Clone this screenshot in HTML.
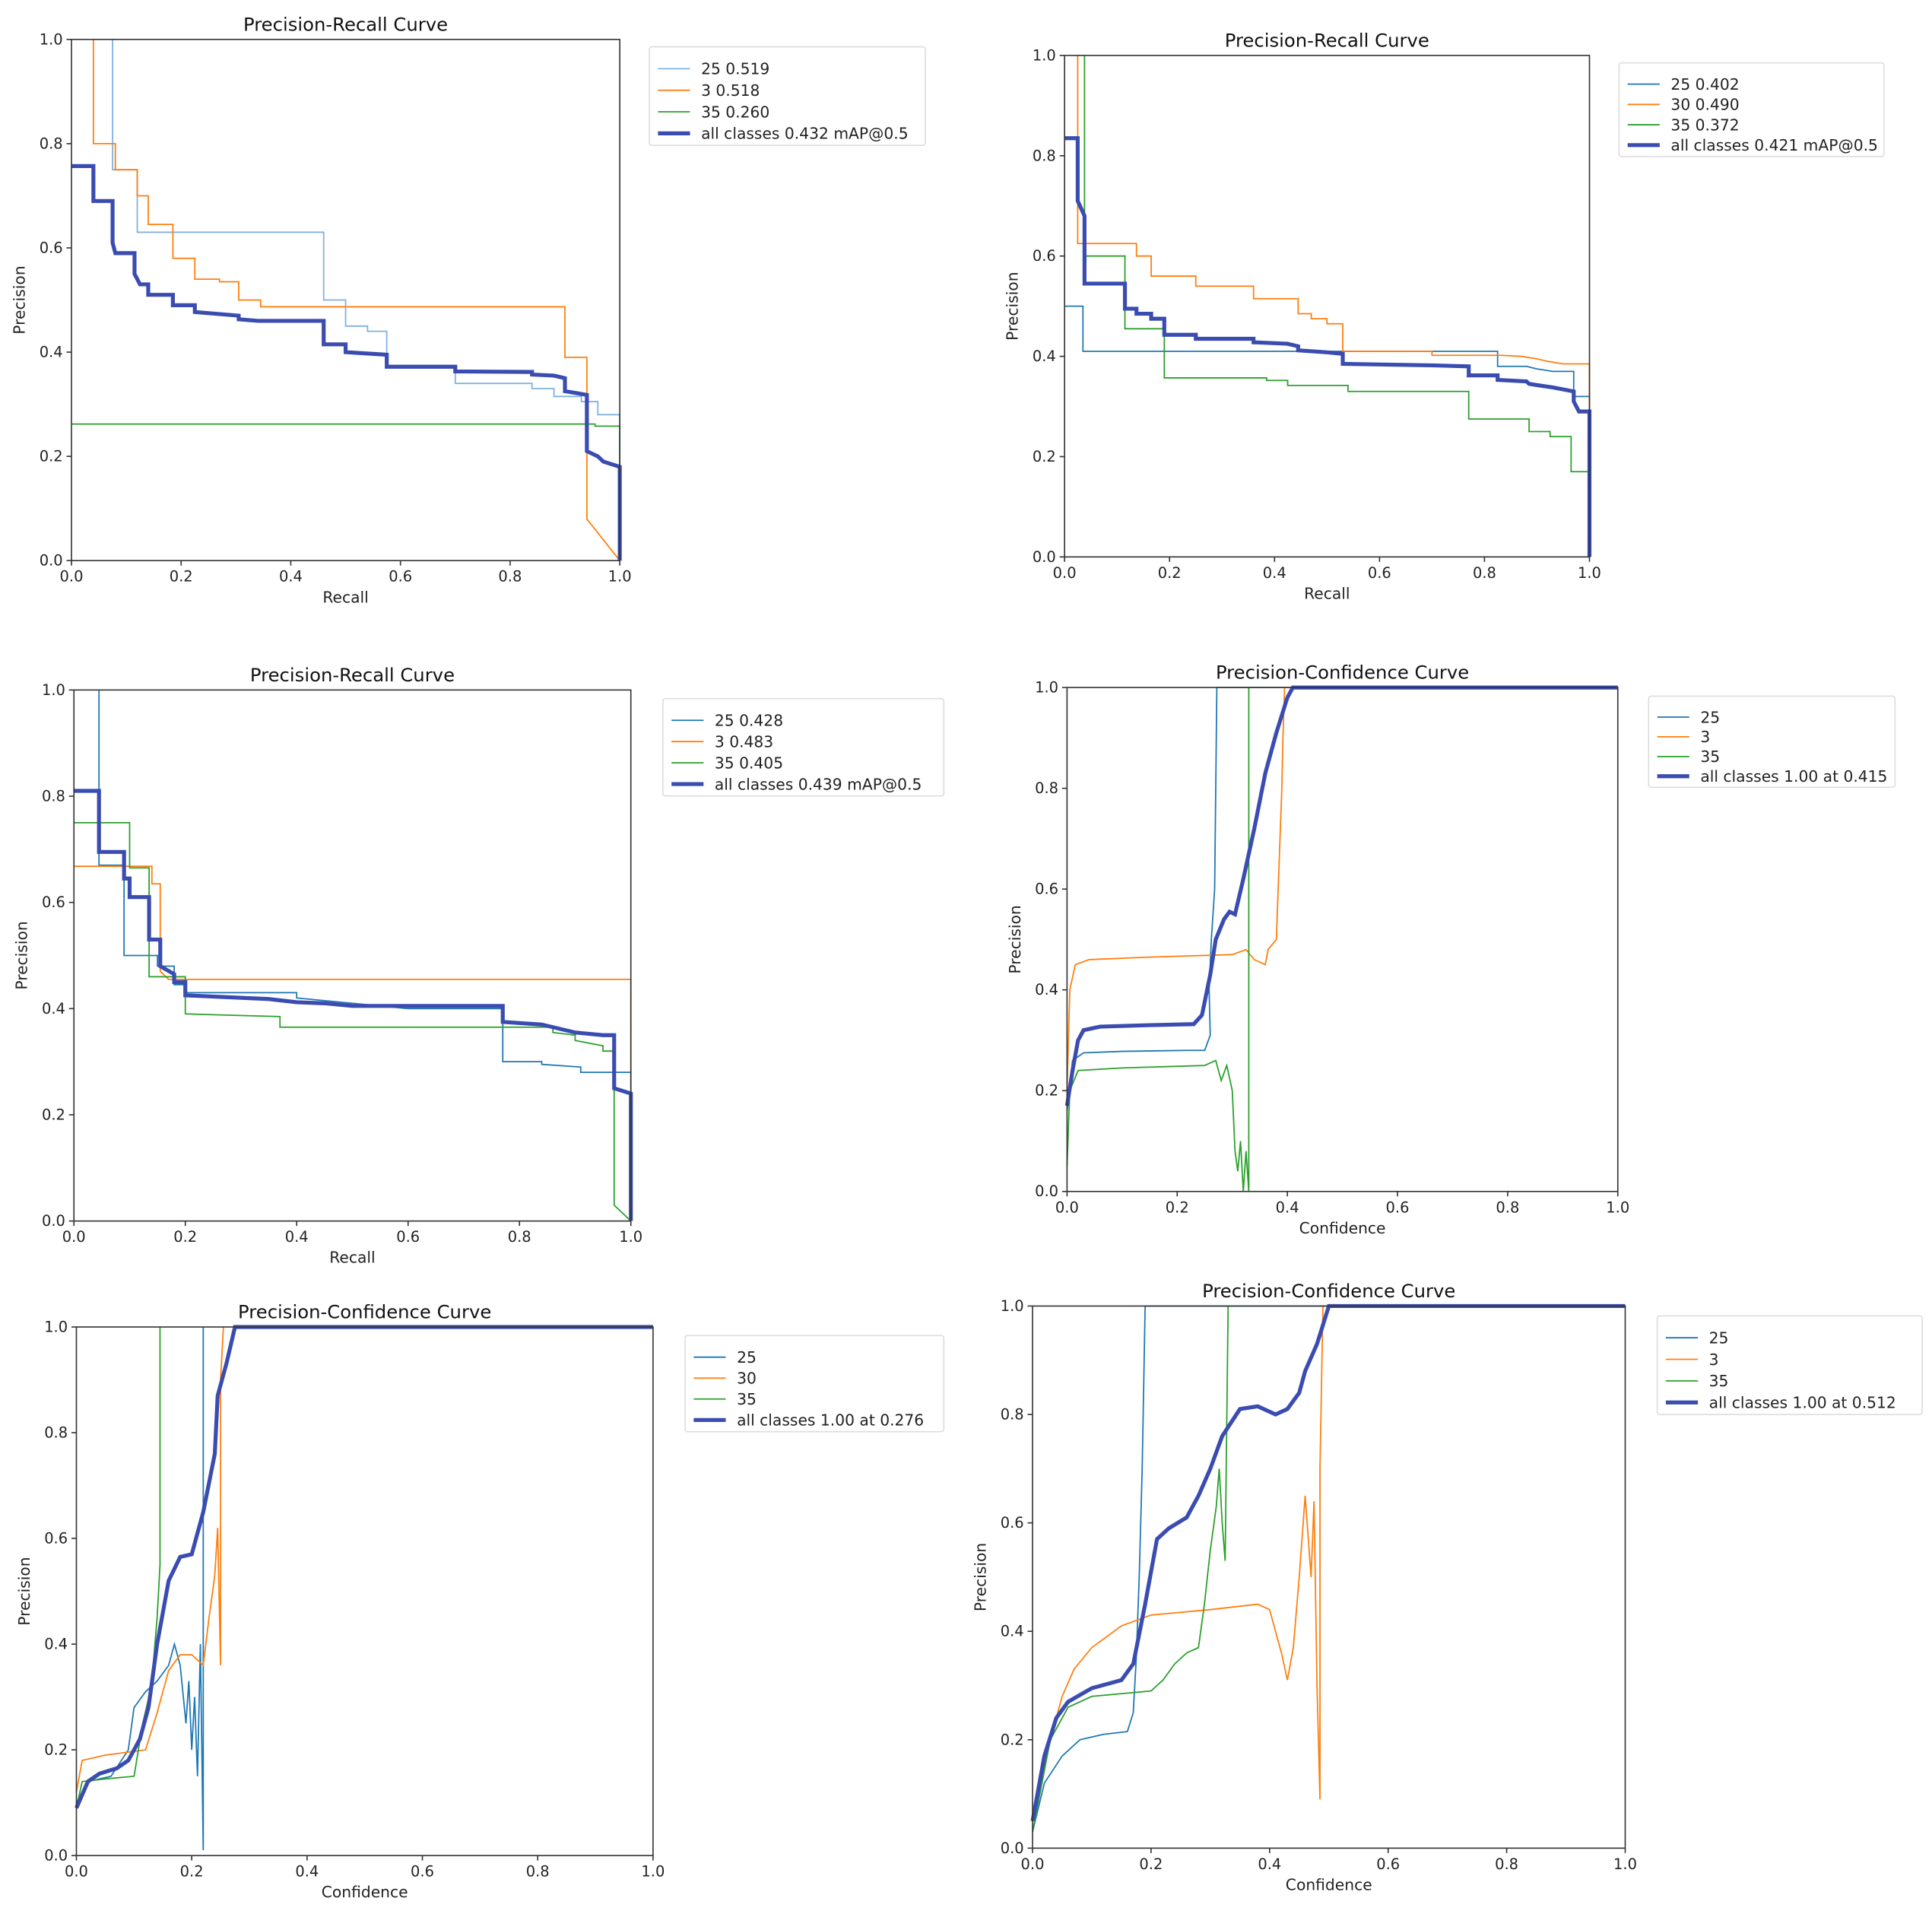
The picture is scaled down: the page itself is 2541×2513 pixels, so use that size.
<!DOCTYPE html>
<html><head><meta charset="utf-8">
<style>
html,body{margin:0;padding:0;background:#fff;}
svg{display:block;font-family:"DejaVu Sans","Liberation Sans",sans-serif;}
</style></head>
<body>
<svg id="root" width="2541" height="2513" viewBox="0 0 1568 1551" preserveAspectRatio="none" xmlns="http://www.w3.org/2000/svg"></svg>
<script>
const xTicks = [0, 0.2, 0.4, 0.6, 0.8, 1.0];
const yTicks = [0, 0.2, 0.4, 0.6, 0.8, 1.0];
const tickLabels = ["0.0","0.2","0.4","0.6","0.8","1.0"];

// Panel 1 PR
const p1_a = [[0.075,1],[0.075,0.75],[0.12,0.75],[0.12,0.63],[0.46,0.63],[0.46,0.5],[0.5,0.5],[0.5,0.45],[0.54,0.45],[0.54,0.44],[0.575,0.44],[0.575,0.37],[0.7,0.37],[0.7,0.34],[0.84,0.34],[0.84,0.33],[0.88,0.33],[0.88,0.315],[0.93,0.315],[0.93,0.305],[0.96,0.305],[0.96,0.28],[1,0.28],[1,0]];
const p1_b = [[0.04,1],[0.04,0.8],[0.08,0.8],[0.08,0.75],[0.12,0.75],[0.12,0.7],[0.14,0.7],[0.14,0.645],[0.185,0.645],[0.185,0.58],[0.225,0.58],[0.225,0.54],[0.27,0.54],[0.27,0.535],[0.305,0.535],[0.305,0.5],[0.345,0.5],[0.345,0.487],[0.9,0.487],[0.9,0.39],[0.94,0.39],[0.94,0.08],[1,0]];
const p1_c = [[0,0.262],[0.955,0.262],[0.955,0.258],[1,0.258],[1,0]];
const p1_all = [[0,0.757],[0.04,0.757],[0.04,0.69],[0.075,0.69],[0.075,0.61],[0.08,0.59],[0.115,0.59],[0.115,0.55],[0.125,0.53],[0.14,0.53],[0.14,0.51],[0.185,0.51],[0.185,0.49],[0.225,0.49],[0.225,0.477],[0.305,0.47],[0.305,0.463],[0.34,0.46],[0.46,0.46],[0.46,0.415],[0.5,0.415],[0.5,0.4],[0.575,0.395],[0.575,0.372],[0.7,0.372],[0.7,0.363],[0.84,0.362],[0.84,0.357],[0.88,0.355],[0.9,0.35],[0.9,0.325],[0.94,0.318],[0.94,0.21],[0.96,0.2],[0.97,0.19],[1,0.18],[1,0]];
const p1_labels = ["25 0.519","3 0.518","35 0.260","all classes 0.432 mAP@0.5"];

// Panel 2 PR
const p2_a = [[0,0.5],[0.035,0.5],[0.035,0.41],[0.825,0.41],[0.825,0.38],[0.88,0.38],[0.9,0.375],[0.93,0.37],[0.97,0.37],[0.97,0.32],[1,0.32],[1,0]];
const p2_b = [[0.025,1],[0.025,0.625],[0.137,0.625],[0.137,0.6],[0.165,0.6],[0.165,0.56],[0.25,0.56],[0.25,0.54],[0.36,0.54],[0.36,0.515],[0.445,0.515],[0.445,0.485],[0.47,0.485],[0.47,0.475],[0.5,0.475],[0.5,0.465],[0.53,0.465],[0.53,0.41],[0.7,0.41],[0.7,0.402],[0.83,0.402],[0.87,0.4],[0.9,0.395],[0.92,0.39],[0.95,0.385],[1,0.385],[1,0.3]];
const p2_c = [[0.038,1],[0.038,0.6],[0.115,0.6],[0.115,0.455],[0.19,0.455],[0.19,0.357],[0.385,0.357],[0.385,0.352],[0.425,0.352],[0.425,0.342],[0.54,0.342],[0.54,0.33],[0.77,0.33],[0.77,0.275],[0.885,0.275],[0.885,0.25],[0.925,0.25],[0.925,0.24],[0.965,0.24],[0.965,0.17],[1,0.17],[1,0]];
const p2_all = [[0,0.835],[0.025,0.835],[0.025,0.71],[0.038,0.68],[0.038,0.545],[0.115,0.545],[0.115,0.495],[0.137,0.495],[0.137,0.485],[0.165,0.485],[0.165,0.475],[0.19,0.475],[0.19,0.443],[0.25,0.443],[0.25,0.435],[0.36,0.435],[0.36,0.428],[0.425,0.425],[0.445,0.42],[0.445,0.412],[0.5,0.408],[0.53,0.405],[0.53,0.385],[0.7,0.382],[0.77,0.38],[0.77,0.362],[0.825,0.362],[0.825,0.353],[0.88,0.35],[0.885,0.345],[0.93,0.338],[0.97,0.33],[0.97,0.31],[0.98,0.29],[1,0.29],[1,0]];
const p2_labels = ["25 0.402","30 0.490","35 0.372","all classes 0.421 mAP@0.5"];

// Panel 3 PR
const p3_a = [[0.045,1],[0.045,0.67],[0.09,0.67],[0.09,0.5],[0.15,0.5],[0.15,0.48],[0.18,0.48],[0.18,0.445],[0.2,0.445],[0.2,0.43],[0.4,0.43],[0.4,0.42],[0.6,0.4],[0.77,0.4],[0.77,0.3],[0.84,0.3],[0.84,0.295],[0.91,0.29],[0.91,0.28],[1,0.28],[1,0]];
const p3_b = [[0,0.668],[0.14,0.668],[0.14,0.635],[0.155,0.635],[0.155,0.47],[0.17,0.455],[1,0.455],[1,0.28]];
const p3_c = [[0,0.75],[0.1,0.75],[0.1,0.665],[0.135,0.665],[0.135,0.46],[0.2,0.46],[0.2,0.39],[0.37,0.385],[0.37,0.365],[0.86,0.365],[0.86,0.355],[0.9,0.35],[0.9,0.34],[0.95,0.33],[0.95,0.32],[0.97,0.32],[0.97,0.03],[1,0]];
const p3_all = [[0,0.81],[0.045,0.81],[0.045,0.695],[0.09,0.695],[0.09,0.645],[0.1,0.645],[0.1,0.61],[0.135,0.61],[0.135,0.53],[0.155,0.53],[0.155,0.48],[0.18,0.465],[0.18,0.45],[0.2,0.45],[0.2,0.425],[0.35,0.418],[0.4,0.412],[0.45,0.41],[0.5,0.405],[0.77,0.405],[0.77,0.375],[0.84,0.37],[0.88,0.36],[0.9,0.355],[0.95,0.35],[0.97,0.35],[0.97,0.25],[1,0.24],[1,0]];
const p3_labels = ["25 0.428","3 0.483","35 0.405","all classes 0.439 mAP@0.5"];

// Panel 4 PC
const p4_a = [[0,0.16],[0.01,0.26],[0.03,0.275],[0.1,0.278],[0.22,0.28],[0.25,0.28],[0.26,0.31],[0.258,0.4],[0.262,0.5],[0.265,0.55],[0.268,0.6],[0.27,0.8],[0.272,1.0],[1,1]];
const p4_b = [[0,0.2],[0.005,0.4],[0.015,0.45],[0.04,0.46],[0.15,0.465],[0.3,0.47],[0.325,0.48],[0.34,0.46],[0.36,0.45],[0.365,0.48],[0.38,0.5],[0.385,0.65],[0.39,0.8],[0.392,0.9],[0.395,1.0],[1,1]];
const p4_c = [[0,0.05],[0.005,0.2],[0.02,0.24],[0.1,0.245],[0.25,0.25],[0.27,0.26],[0.28,0.22],[0.29,0.25],[0.3,0.2],[0.305,0.08],[0.31,0.04],[0.315,0.1],[0.32,0.0],[0.325,0.08],[0.33,0.0],[0.33,1.0]];
const p4_all = [[0,0.17],[0.01,0.24],[0.02,0.3],[0.03,0.32],[0.06,0.327],[0.15,0.33],[0.23,0.332],[0.245,0.35],[0.26,0.43],[0.27,0.5],[0.285,0.54],[0.295,0.555],[0.305,0.55],[0.32,0.62],[0.34,0.72],[0.36,0.83],[0.38,0.91],[0.4,0.98],[0.41,1.0],[1,1]];
const p4_labels = ["25","3","35","all classes 1.00 at 0.415"];

// Panel 5 PC
const p5_a = [[0,0.1],[0.02,0.14],[0.06,0.15],[0.09,0.2],[0.1,0.28],[0.12,0.31],[0.14,0.33],[0.16,0.36],[0.17,0.4],[0.18,0.36],[0.19,0.25],[0.195,0.33],[0.2,0.2],[0.205,0.3],[0.21,0.15],[0.215,0.4],[0.22,0.01],[0.22,1.0]];
const p5_b = [[0,0.12],[0.01,0.18],[0.05,0.19],[0.12,0.2],[0.14,0.27],[0.16,0.35],[0.18,0.38],[0.2,0.38],[0.22,0.36],[0.23,0.45],[0.24,0.53],[0.245,0.62],[0.25,0.36],[0.25,0.9],[0.255,1.0]];
const p5_c = [[0,0.09],[0.01,0.14],[0.05,0.145],[0.1,0.15],[0.115,0.25],[0.13,0.32],[0.14,0.45],[0.145,0.55],[0.145,1.0]];
const p5_all = [[0,0.09],[0.02,0.14],[0.04,0.155],[0.07,0.165],[0.09,0.18],[0.11,0.22],[0.125,0.28],[0.14,0.4],[0.16,0.52],[0.18,0.565],[0.2,0.57],[0.22,0.65],[0.24,0.76],[0.245,0.87],[0.26,0.93],[0.275,1.0],[1,1]];
const p5_labels = ["25","30","35","all classes 1.00 at 0.276"];

// Panel 6 PC
const p6_a = [[0,0.03],[0.02,0.12],[0.05,0.17],[0.08,0.2],[0.12,0.21],[0.16,0.215],[0.17,0.25],[0.175,0.35],[0.18,0.5],[0.185,0.7],[0.19,1.0],[1,1]];
const p6_b = [[0,0.05],[0.03,0.2],[0.05,0.28],[0.07,0.33],[0.1,0.37],[0.15,0.41],[0.2,0.43],[0.3,0.44],[0.38,0.45],[0.4,0.44],[0.42,0.36],[0.43,0.31],[0.44,0.37],[0.45,0.5],[0.46,0.65],[0.47,0.5],[0.475,0.64],[0.48,0.3],[0.485,0.09],[0.485,0.7],[0.49,1.0]];
const p6_c = [[0,0.03],[0.03,0.2],[0.06,0.26],[0.1,0.28],[0.2,0.29],[0.22,0.31],[0.24,0.34],[0.26,0.36],[0.28,0.37],[0.29,0.45],[0.3,0.55],[0.31,0.63],[0.315,0.7],[0.32,0.6],[0.325,0.53],[0.33,1.0]];
const p6_all = [[0,0.05],[0.02,0.17],[0.04,0.24],[0.06,0.27],[0.1,0.295],[0.15,0.31],[0.17,0.34],[0.19,0.45],[0.21,0.57],[0.23,0.59],[0.26,0.61],[0.28,0.65],[0.3,0.7],[0.32,0.76],[0.35,0.81],[0.38,0.815],[0.41,0.8],[0.43,0.81],[0.45,0.84],[0.46,0.88],[0.48,0.93],[0.5,1.0],[1,1]];
const p6_labels = ["25","3","35","all classes 1.00 at 0.512"];

const NS = "http://www.w3.org/2000/svg";
const root = document.getElementById('root');
function mk(tag, attrs, parent){ const e=document.createElementNS(NS,tag); for(const k in attrs) e.setAttribute(k,attrs[k]); parent.appendChild(e); return e; }

const panels = [
 {id:"pr-1", title:"Precision-Recall Curve", xl:"Recall", box:[58,32,503,455], leg:[527,38,224,80], series:[p1_a,p1_b,p1_c,p1_all], labels:p1_labels, c0:"#7fb2de"},
 {id:"pr-2", title:"Precision-Recall Curve", xl:"Recall", box:[864,45,1290,452], leg:[1314,51,215,76], series:[p2_a,p2_b,p2_c,p2_all], labels:p2_labels, c0:"#1f77b4"},
 {id:"pr-3", title:"Precision-Recall Curve", xl:"Recall", box:[60,560,512,991], leg:[538,567,228,79], series:[p3_a,p3_b,p3_c,p3_all], labels:p3_labels, c0:"#1f77b4"},
 {id:"pc-4", title:"Precision-Confidence Curve", xl:"Confidence", box:[866,558,1313,967], leg:[1338,565,200,74], series:[p4_a,p4_b,p4_c,p4_all], labels:p4_labels, c0:"#1f77b4"},
 {id:"pc-5", title:"Precision-Confidence Curve", xl:"Confidence", box:[62,1077,530,1506], leg:[556,1084,210,78], series:[p5_a,p5_b,p5_c,p5_all], labels:p5_labels, c0:"#1f77b4"},
 {id:"pc-6", title:"Precision-Confidence Curve", xl:"Confidence", box:[838,1060,1319,1500], leg:[1345,1068,215,80], series:[p6_a,p6_b,p6_c,p6_all], labels:p6_labels, c0:"#1f77b4"}
];

panels.forEach(p=>{
  const g = mk('g',{},root);
  
  
  const [x0,y0,x1,y1]=p.box;
  const sx = v=> x0+(x1-x0)*v;
  const sy = v=> y1-(y1-y0)*v;
  const colors=[p.c0,"#ff7f0e","#2ca02c","#3a4cb0"];
  const widths=[1.1,1.1,1.1,3.2];
  // series
  p.series.forEach((s,i)=>{
    const pl = mk('polyline',{points:s.map(d=>sx(d[0]).toFixed(2)+","+sy(d[1]).toFixed(2)).join(" "),fill:"none",stroke:colors[i],"stroke-width":widths[i],"stroke-linejoin":"miter"},g);
    
    
  });
  // frame
  const fr = mk('rect',{x:x0,y:y0,width:x1-x0,height:y1-y0,fill:"none",stroke:"#333","stroke-width":1},g);
  
  
  // ticks
  xTicks.forEach((t,i)=>{
    mk('line',{x1:sx(t),x2:sx(t),y1:y1,y2:y1+4,stroke:"#333","stroke-width":1},g);
    const tx = mk('text',{x:sx(t),y:y1+17,"font-size":12,"text-anchor":"middle",fill:"#222"},g);
    tx.textContent=tickLabels[i];
    
    
  });
  yTicks.forEach((t,i)=>{
    mk('line',{x1:x0-4,x2:x0,y1:sy(t),y2:sy(t),stroke:"#333","stroke-width":1},g);
    const tx = mk('text',{x:x0-7,y:sy(t)+4,"font-size":12,"text-anchor":"end",fill:"#222"},g);
    tx.textContent=tickLabels[i];
    
    
  });
  const ti = mk('text',{x:(x0+x1)/2,y:y0-7,"font-size":15,"text-anchor":"middle",fill:"#111"},g);
  ti.textContent=p.title;
  
  
  const xl = mk('text',{x:(x0+x1)/2,y:y1+34,"font-size":12.5,"text-anchor":"middle",fill:"#222"},g);
  xl.textContent=p.xl;
  
  
  const yx=x0-38, yy=(y0+y1)/2;
  const yl = mk('text',{x:yx,y:yy,"font-size":12.5,"text-anchor":"middle",fill:"#222",transform:`rotate(-90 ${yx} ${yy})`},g);
  yl.textContent="Precision";
  
  
  // legend
  const [lx,ly,lw,lh]=p.leg;
  const lg = mk('g',{},g);
  
  
  mk('rect',{x:lx,y:ly,width:lw,height:lh,fill:"#fff",stroke:"#ddd","stroke-width":1,rx:2},lg);
  const step=(lh-10)/4;
  p.labels.forEach((lab,i)=>{
    const cy = ly+10+step*i+step/2-1;
    const e = mk('g',{},lg);
    
    
    mk('line',{x1:lx+7,x2:lx+33,y1:cy,y2:cy,stroke:colors[i],"stroke-width":widths[i]},e);
    const t = mk('text',{x:lx+42,y:cy+4.5,"font-size":12.5,fill:"#222"},e);
    t.textContent=lab;
  });
});
</script>
</body></html>
